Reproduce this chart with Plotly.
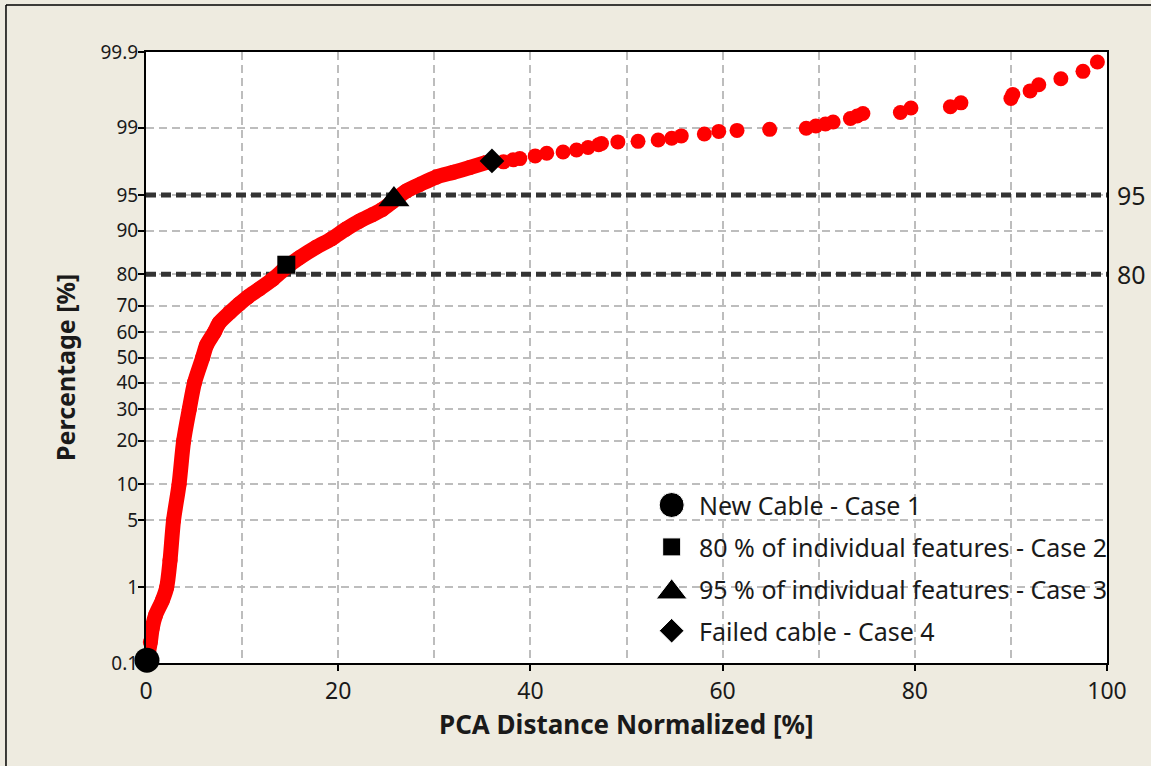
import plotly.graph_objects as go
from statistics import NormalDist

_nd = NormalDist()


def probit(pct):
    """Percent -> standard normal quantile (normal probability scale)."""
    return _nd.inv_cdf(pct / 100.0)


# ---- data -----------------------------------------------------------------
# dense part of the empirical distribution (PCA distance [%], cumulative %)
band_x = [0.10, 0.45, 0.65, 1.0, 1.7, 2.15, 2.5, 2.87, 3.44, 3.92, 4.5, 5.05,
          5.9, 6.3, 7.1, 7.6, 8.7, 9.7, 10.6, 11.8, 13.2, 14.6, 16.0, 17.7,
          19.3, 20.8, 22.2, 23.6, 24.6, 25.6, 27.1, 28.5, 30.2, 32.0, 33.7,
          35.4]
band_pct = [0.11, 0.20, 0.31, 0.46, 0.70, 1.0, 2.0, 5, 10, 20, 30, 40,
            50, 55, 60, 63.6, 67.5, 70.6, 73.0, 75.6, 78.6, 81.9, 84.4, 86.75,
            88.5, 90.3, 91.6, 92.6, 93.3, 94.2, 95.4, 96.0, 96.6, 96.95, 97.27,
            97.57]

# upper tail, individual samples
tail_x = [37.2, 38.2, 38.9, 40.5, 41.7, 43.4, 44.8, 46.0, 47.1, 47.4, 49.1,
          51.2, 53.3, 54.7, 55.7, 58.1, 59.6, 61.5, 64.9, 68.7, 69.7, 70.7,
          71.5, 73.3, 74.0, 74.6, 78.5, 79.6, 83.7, 84.8, 90.0, 90.2, 92.0,
          92.9, 95.2, 97.5, 99.0]
tail_pct = [97.61, 97.72, 97.79, 97.93, 98.06, 98.12, 98.21, 98.32, 98.43,
            98.48, 98.54, 98.56, 98.61, 98.67, 98.75, 98.81, 98.89, 98.92,
            98.95, 98.98, 99.04, 99.09, 99.14, 99.22, 99.27, 99.32, 99.34,
            99.42, 99.44, 99.50, 99.56, 99.61, 99.65, 99.71, 99.76, 99.81,
            99.86]

# highlighted cases
case_names = ["New Cable - Case 1",
              "80 % of individual features - Case 2",
              "95 % of individual features - Case 3",
              "Failed cable - Case 4"]
case_x = [0.1, 14.6, 25.8, 36.0]
case_pct = [0.11, 82.6, 94.5, 97.66]
case_symbols = ["circle", "square", "triangle-up", "diamond"]
case_sizes = [25, 18, 27, 19]

# reference levels
ref_levels = [95, 80]

# probability axis ticks
y_tick_values = [0.1, 1, 5, 10, 20, 30, 40, 50, 60, 70, 80, 90, 95, 99, 99.9]
y_tick_labels = ["0.1", "1", "5", "10", "20", "30", "40", "50", "60", "70",
                 "80", "90", "95", "99", "99.9"]

# ---- styling ----------------------------------------------------------------
FONT = "Noto Sans"
RED = "#FF0000"
GRID = "#BDBDBD"
BG = "#EEEBE0"
INK = "#1A1A1A"

fig = go.Figure()

# continuous body of the distribution
fig.add_trace(go.Scatter(
    x=band_x, y=[probit(p) for p in band_pct],
    mode="lines+markers",
    line=dict(color=RED, width=15, shape="spline", smoothing=0.8),
    marker=dict(color=RED, size=15, symbol="circle", opacity=1),
    showlegend=False, hoverinfo="skip", cliponaxis=False,
))

# separated tail samples
fig.add_trace(go.Scatter(
    x=tail_x, y=[probit(p) for p in tail_pct],
    mode="markers",
    marker=dict(color=RED, size=15, symbol="circle", opacity=1),
    showlegend=False, cliponaxis=False,
))

# case markers
for name, cx, cp, sym, sz in zip(case_names, case_x, case_pct,
                                 case_symbols, case_sizes):
    fig.add_trace(go.Scatter(
        x=[cx], y=[probit(cp)], mode="markers", name=name,
        marker=dict(color="black", size=sz, symbol=sym, opacity=1),
        showlegend=False, cliponaxis=False,
    ))

# legend keys (drawn on a hidden overlay axis spanning the plot area)
LEG_SYM_X = 0.547
LEG_TXT_X = 0.573
LEG_TOP = 0.2586
LEG_STEP = 0.0686
leg_y = [LEG_TOP - i * LEG_STEP for i in range(len(case_names))]
leg_sym_y = [y - (0.0055 if s == "triangle-up" else 0) for y, s in
             zip(leg_y, case_symbols)]
fig.add_trace(go.Scatter(
    x=[LEG_SYM_X] * len(case_names), y=leg_sym_y,
    xaxis="x2", yaxis="y2", mode="markers",
    marker=dict(color="black", size=case_sizes, symbol=case_symbols,
                opacity=1),
    showlegend=False, hoverinfo="skip", cliponaxis=False,
))

annotations = []
for name, y in zip(case_names, leg_y):
    annotations.append(dict(
        x=LEG_TXT_X, y=y, xref="paper", yref="paper", text=name,
        showarrow=False, xanchor="left", yanchor="middle",
        font=dict(family=FONT, size=25, color=INK),
    ))

shapes = []
for lvl in ref_levels:
    shapes.append(dict(
        type="line", xref="x", yref="y", x0=0, x1=100,
        y0=probit(lvl), y1=probit(lvl), layer="between",
        line=dict(color="#333333", width=5, dash="10px,5px"),
    ))
    annotations.append(dict(
        x=1, y=probit(lvl), xref="paper", yref="y", text=str(lvl),
        showarrow=False, xanchor="left", yanchor="middle", xshift=8,
        font=dict(family=FONT, size=25, color=INK),
    ))

# axis titles
annotations.append(dict(
    x=0.5, y=-0.10, xref="paper", yref="paper",
    text="<b>PCA Distance Normalized [%]</b>", showarrow=False,
    xanchor="center", yanchor="middle",
    font=dict(family=FONT, size=26, color=INK),
))
annotations.append(dict(
    x=-0.0843, y=0.4845, xref="paper", yref="paper",
    text="<b>Percentage [%]</b>", showarrow=False, textangle=-90,
    xanchor="center", yanchor="middle",
    font=dict(family=FONT, size=25, color=INK),
))

# outer frame (top and left edges)
shapes.append(dict(type="line", xref="paper", yref="paper",
                   x0=-0.1457, x1=1.05, y0=1.0769, y1=1.0769,
                   line=dict(color="black", width=1.5)))
shapes.append(dict(type="line", xref="paper", yref="paper",
                   x0=-0.1457, x1=-0.1457, y0=1.0769, y1=-0.2,
                   line=dict(color="black", width=1.5)))

grid_common = dict(showgrid=True, gridcolor=GRID, gridwidth=1.5,
                   griddash="8px,5px")

fig.update_layout(
    width=1151, height=766,
    margin=dict(l=146, r=44, t=52, b=103),
    paper_bgcolor=BG, plot_bgcolor="white",
    font=dict(family=FONT, color=INK),
    showlegend=False,
    xaxis=dict(
        range=[0, 100], tick0=0, dtick=20, ticks="outside", ticklen=6,
        tickwidth=2, tickcolor="black", showline=True, linewidth=2,
        linecolor="black", mirror=True, zeroline=False,
        tickfont=dict(family=FONT, size=23, color=INK),
        minor=dict(dtick=10, **grid_common),
        **grid_common,
    ),
    yaxis=dict(
        range=[probit(0.1), probit(99.9)],
        tickmode="array",
        tickvals=[probit(v) for v in y_tick_values],
        ticktext=y_tick_labels,
        ticks="outside", ticklen=6, tickwidth=2, tickcolor="black",
        ticklabelstandoff=-4,
        showline=True, linewidth=2, linecolor="black", mirror=True,
        zeroline=False,
        tickfont=dict(family=FONT, size=19, color=INK),
        **grid_common,
    ),
    xaxis2=dict(range=[0, 1], overlaying="x", visible=False),
    yaxis2=dict(range=[0, 1], overlaying="y", visible=False),
    annotations=annotations,
    shapes=shapes,
)

fig.write_html("out.html")
